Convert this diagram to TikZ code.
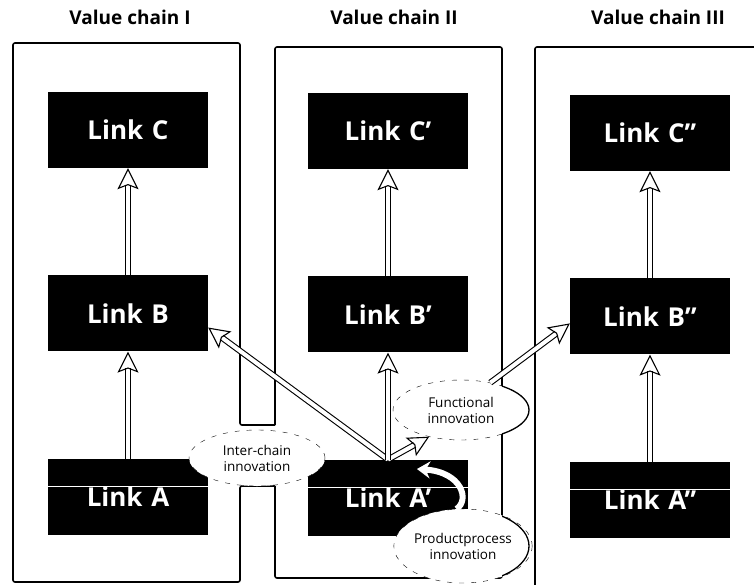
\documentclass[tikz,border=0pt]{standalone}
\usepackage{fontspec}
\setmainfont{Open Sans}
\usetikzlibrary{positioning,shapes.geometric,arrows.meta}

\begin{document}
\begin{tikzpicture}[x=1pt, y=-1pt, node distance=107pt,
link/.style={fill=black, shape=rectangle, minimum width=160pt, minimum height=76pt, text=white, font=\fontsize{26}{30}\selectfont\bfseries},
linkA/.style={link, path picture={\draw[white, thin] ([yshift=11pt]path picture bounding box.west) -- ([yshift=11pt]path picture bounding box.east);}},
chaintitle/.style={font=\fontsize{19}{22}\selectfont\bfseries},
cloud/.style={shape=ellipse, fill=white, draw, thin, dash pattern=on 5pt off 7pt, inner sep=0pt, align=center, font=\fontsize{13.5}{16}\selectfont},
frame/.style={line width=1.6pt, rounded corners=2pt},
uparrow/.style={double=white, double distance=4pt, line width=1.1pt, -{Stealth[open, length=21pt, width=21pt, inset=4pt]}}]
\useasboundingbox (0,0) rectangle (754,584);

\node[chaintitle] (titleI) at (130,17) {Value chain I};
\node[chaintitle] (titleII) at (394,17) {Value chain II};
\node[chaintitle] (titleIII) at (658,17) {Value chain III};

\draw[frame] (275,425) -- (240,425) -- (240,43) -- (13,43) -- (13,582) -- (240,582) -- (240,486) -- (275,486);
\draw[frame] (275,425) -- (275,47) -- (502,47) -- (502,578) -- (275,578) -- (275,486);
\draw[frame] (535,600) -- (535,47) -- (770,47);

\node[link] (linkC) at (128,130) {Link\,\,C};
\node[link, below=of linkC] (linkB) {Link\,\,B};
\node[linkA, below=of linkB] (linkA) {Link\,\,A};
\node[link] (linkCp) at (388,131) {Link\,\,C’};
\node[link, below=of linkCp] (linkBp) {Link\,\,B’};
\node[linkA, below=of linkBp] (linkAp) {Link\,\,A’};
\node[link] (linkCpp) at (650,133) {Link\,\,C”};
\node[link, below=of linkCpp] (linkBpp) {Link\,\,B”};
\node[linkA, below=of linkBpp] (linkApp) {Link\,\,A”};

\node[cloud, minimum width=136pt, minimum height=56pt] (inter) at (257,458) {Inter-chain\\innovation};
\node[cloud, minimum width=136pt, minimum height=60pt] (func) at (461,410) {Functional\\innovation};
\node[cloud, minimum width=132pt, minimum height=74pt] (prod) at (463,546) {Productprocess\\innovation};
\begin{scope}
\clip (502,0) rectangle (754,584);
\draw[line width=1.3pt] (func.center) ellipse [x radius=68pt, y radius=30pt];
\draw[line width=1.3pt] (prod.center) ellipse [x radius=66pt, y radius=37pt];
\end{scope}

\draw[uparrow] (linkA) -- (linkB);
\draw[uparrow] (linkB) -- (linkC);
\draw[uparrow] (linkBp) -- (linkCp);
\draw[uparrow] (linkApp) -- (linkBpp);
\draw[uparrow] (linkBpp) -- (linkCpp);
\draw[uparrow] (linkAp.north) -- (linkB.-10);
\draw[uparrow] (linkAp.north) -- (func.220);
\draw[uparrow] (linkAp.north) -- (linkBp);
\draw[uparrow] (func.43) -- (linkBpp.185);

\coordinate (procTip) at (417,469);
\draw[white, line width=6pt, -{Stealth[length=13pt, width=17pt]}] (prod.100) .. controls (470,500) and (462,472) .. (procTip);
\end{tikzpicture}
\end{document}
